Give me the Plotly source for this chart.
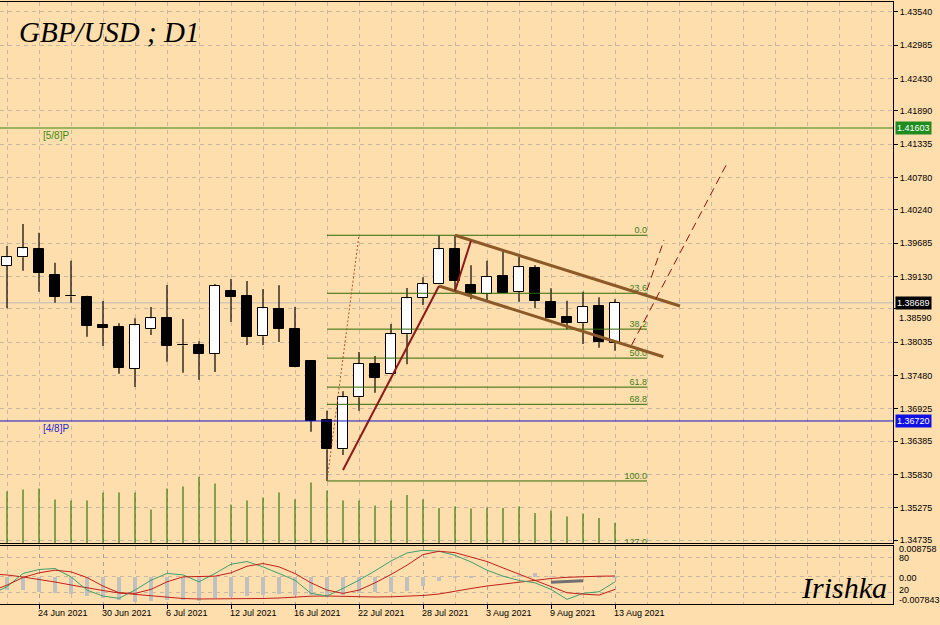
import plotly.graph_objects as go

# ---------------- data ----------------
dates = ["18 Jun 2021", "21 Jun 2021", "22 Jun 2021", "23 Jun 2021", "24 Jun 2021", "25 Jun 2021",
         "28 Jun 2021", "29 Jun 2021", "30 Jun 2021", "1 Jul 2021", "2 Jul 2021", "5 Jul 2021",
         "6 Jul 2021", "7 Jul 2021", "8 Jul 2021", "9 Jul 2021", "12 Jul 2021", "13 Jul 2021",
         "14 Jul 2021", "15 Jul 2021", "16 Jul 2021", "19 Jul 2021", "20 Jul 2021", "21 Jul 2021",
         "22 Jul 2021", "23 Jul 2021", "26 Jul 2021", "27 Jul 2021", "28 Jul 2021", "29 Jul 2021",
         "30 Jul 2021", "2 Aug 2021", "3 Aug 2021", "4 Aug 2021", "5 Aug 2021", "6 Aug 2021",
         "9 Aug 2021", "10 Aug 2021", "11 Aug 2021", "12 Aug 2021", "13 Aug 2021"]

# candles: 22 Jun .. 13 Aug
open_ = [1.39308, 1.39448, 1.39581, 1.39148, 1.38800, 1.38781, 1.38320, 1.38286, 1.37591, 1.38248,
         1.38436, 1.37981, 1.37981, 1.37841, 1.38886, 1.38798, 1.38131, 1.38586, 1.38248, 1.37720,
         1.36736, 1.36248, 1.37115, 1.37670, 1.37498, 1.38165, 1.38765, 1.38998, 1.39581, 1.38986,
         1.38836, 1.39136, 1.38865, 1.39265, 1.38703, 1.38453, 1.38348, 1.38636, 1.38025]
high = [1.39636, 1.40003, 1.39858, 1.39358, 1.39391, 1.38808, 1.38720, 1.38348, 1.38431, 1.38620,
        1.38986, 1.38420, 1.38048, 1.39003, 1.39086, 1.39053, 1.38920, 1.38981, 1.38620, 1.37736,
        1.36891, 1.37215, 1.37870, 1.37803, 1.38336, 1.38936, 1.39115, 1.39815, 1.39815, 1.39315,
        1.39391, 1.39558, 1.39458, 1.39315, 1.38931, 1.38725, 1.38875, 1.38781, 1.38748]
low = [1.38598, 1.39225, 1.38875, 1.38691, 1.38691, 1.38125, 1.37970, 1.37508, 1.37286, 1.38153,
       1.37708, 1.37525, 1.37408, 1.37536, 1.38370, 1.37986, 1.37986, 1.38036, 1.37615, 1.36541,
       1.35720, 1.36153, 1.36891, 1.37191, 1.37498, 1.37665, 1.38653, 1.38998, 1.38891, 1.38748,
       1.38725, 1.38858, 1.38708, 1.38598, 1.38441, 1.38248, 1.38003, 1.37941, 1.37891]
close = [1.39448, 1.39598, 1.39191, 1.38791, 1.38795, 1.38308, 1.38275, 1.37608, 1.38315, 1.38431,
         1.37975, 1.37985, 1.37841, 1.38975, 1.38791, 1.38125, 1.38598, 1.38258, 1.37625, 1.36720,
         1.36248, 1.37115, 1.37670, 1.37441, 1.38165, 1.38765, 1.38998, 1.39581, 1.39058, 1.38836,
         1.39125, 1.38858, 1.39281, 1.38725, 1.38441, 1.38358, 1.38625, 1.38041, 1.38689]
volume = [103000, 107000, 109000, 87000, 85000, 85000, 101000, 101000, 101000, 67000,
          109000, 113000, 132000, 119000, 77000, 85000, 91000, 101000, 87000, 121000,
          105000, 85000, 85000, 75000, 85000, 96000, 87000, 70000, 73000, 69000,
          71000, 70000, 73000, 60000, 65000, 53000, 59000, 50000, 40000]

# oscillators: 21 Jun .. 13 Aug
stoch_k = [16.7, 29.7, 52.6, 59.5, 61.2, 46.8, 24.0, 13.7, 9.8, 24.0, 41.0, 52.6, 50.3, 38.2, 52.6,
           68.6, 73.2, 64.0, 52.6, 41.0, 18.3, 13.7, 26.9, 41.1, 57.1, 74.2, 88.0, 92.6, 90.9, 84.0,
           72.5, 58.3, 48.0, 40.6, 36.5, 25.2, 8.0, 18.3, 21.1, 38.2]
stoch_d = [22.0, 32.6, 45.7, 53.7, 58.3, 55.4, 45.7, 30.9, 19.4, 18.3, 25.2, 38.2, 46.8, 48.0, 48.0,
           53.7, 65.1, 69.8, 64.0, 52.6, 36.5, 24.0, 18.3, 24.0, 36.5, 50.9, 66.9, 85.2, 90.9, 88.6,
           81.1, 73.2, 62.2, 51.4, 41.1, 29.7, 19.4, 17.1, 15.4, 25.2]
macd_main = [-0.00326, -0.00384, -0.00384, -0.00441, -0.00469, -0.00498, -0.00555, -0.00613, -0.00670,
             -0.00727, -0.00698, -0.00670, -0.00670, -0.00698, -0.00613, -0.00584, -0.00555, -0.00527,
             -0.00498, -0.00527, -0.00530, -0.00580, -0.00520, -0.00480, -0.00450, -0.00430, -0.00400,
             -0.00280, -0.00140, -0.00050, -0.00020, 0.00000, 0.00003, 0.00032, 0.00089, 0.00017,
             0.00000, -0.00010, -0.00040, -0.00026]
macd_signal = [0.00080, 0.00046, -0.00011, -0.00077, -0.00155, -0.00240, -0.00326, -0.00398, -0.00469,
               -0.00512, -0.00555, -0.00593, -0.00627, -0.00641, -0.00641, -0.00641, -0.00641, -0.00627,
               -0.00613, -0.00584, -0.00561, -0.00555, -0.00570, -0.00584, -0.00584, -0.00578, -0.00564,
               -0.00541, -0.00498, -0.00412, -0.00341, -0.00269, -0.00212, -0.00155, -0.00097, -0.00054,
               -0.00020, 0.00003, 0.00011, 0.00017]
osma_seg_dates = ["9 Aug 2021", "10 Aug 2021", "11 Aug 2021"]
osma_seg = [-0.00163, -0.00140, -0.00117]

# drawn objects (bar index, price)
murrey_58 = 1.41603
murrey_48 = 1.36720
last_price = 1.38689
fib_x = [20, 40]
fib_prices = [1.39815, 1.35720]   # 0.0 level, 100.0 level
fib_levels = [0.0, 23.6, 38.2, 50.0, 61.8, 68.8, 100.0, 127.0]
fib_diag = ([20, 22], [1.35720, 1.39815])
red_line1 = ([21, 27], [1.35903, 1.38970])
red_line2 = ([28, 29], [1.38886, 1.39725])
chan_upper = ([28, 42.06], [1.39815, 1.38636])
chan_lower = ([27, 41.02], [1.38970, 1.37791])
proj1 = ([39.04, 44.98], [1.37986, 1.41003])
proj2 = ([40, 41.06], [1.38903, 1.39736])

price_ticks = [1.43540, 1.42985, 1.42430, 1.41890, 1.41335, 1.40780, 1.40240, 1.39685, 1.39130,
               1.38035, 1.37480, 1.36925, 1.36385, 1.35830, 1.35275, 1.34735]
hidden_tick = 1.38590   # tick mostly covered by the last-price box

# ---------------- style ----------------
BG = "#FFDEAD"
GRID = "rgba(130,135,150,0.45)"
GDASH = "4px,4px"
FONT = "Liberation Sans"

xk = [i - 2 for i in range(len(dates))]
xc = xk[2:]          # candle bars
xo = xk[1:]          # oscillator points
idx = {d: k for d, k in zip(dates, xk)}

fig = go.Figure()

# volumes (own axis)
vx, vy = [], []
for k, v in zip(xc, volume):
    vx += [k, k, None]
    vy += [0, v, None]
fig.add_trace(go.Scatter(x=vx, y=vy, mode="lines", line=dict(color="#2a7a0a", width=1.2),
                         xaxis="x", yaxis="y2", hoverinfo="skip"))

# candle bodies
base = [min(o, c) for o, c in zip(open_, close)]
hgt = [abs(c - o) for o, c in zip(open_, close)]
cols = ["white" if c > o else "black" for o, c in zip(open_, close)]
fig.add_trace(go.Bar(x=xc, y=hgt, base=base, width=0.62,
                     marker=dict(color=cols, line=dict(color="black", width=1)),
                     xaxis="x", yaxis="y", hoverinfo="skip"))
# wicks
wx, wy = [], []
for k, o, h, l, c in zip(xc, open_, high, low, close):
    top, bot = max(o, c), min(o, c)
    if h > top:
        wx += [k, k, None]; wy += [top, h, None]
    if l < bot:
        wx += [k, k, None]; wy += [l, bot, None]
fig.add_trace(go.Scatter(x=wx, y=wy, mode="lines", line=dict(color="black", width=1.2),
                         xaxis="x", yaxis="y", hoverinfo="skip"))

# fibonacci
rng = fib_prices[0] - fib_prices[1]
fib_y = [fib_prices[0] - L / 100.0 * rng for L in fib_levels]
fx, fy = [], []
for p in fib_y:
    fx += [fib_x[0], fib_x[1], None]
    fy += [p, p, None]
fig.add_trace(go.Scatter(x=fx, y=fy, mode="lines", line=dict(color="#2f6a06", width=1),
                         xaxis="x", yaxis="y", hoverinfo="skip"))
fig.add_trace(go.Scatter(x=[fib_x[1]] * len(fib_y), y=fib_y, mode="text",
                         text=[f"{L:.1f}" for L in fib_levels], textposition="top left",
                         textfont=dict(family=FONT, size=9, color="#3f7f1f"), cliponaxis=True,
                         xaxis="x", yaxis="y", hoverinfo="skip"))
fig.add_trace(go.Scatter(x=fib_diag[0], y=fib_diag[1], mode="lines",
                         line=dict(color="#b0502a", width=1, dash="2px,2px"),
                         xaxis="x", yaxis="y", hoverinfo="skip"))

# channel and trend lines
for xs, ys, col, w, dash in [
    (chan_upper[0], chan_upper[1], "#8c5a28", 3, "solid"),
    (chan_lower[0], chan_lower[1], "#8c5a28", 3, "solid"),
    (red_line1[0], red_line1[1], "#8b1a1a", 2, "solid"),
    (red_line2[0], red_line2[1], "#8b1a1a", 2, "solid"),
    (proj1[0], proj1[1], "#8b1010", 1, "8px,5px"),
    (proj2[0], proj2[1], "#8b1010", 1, "8px,5px"),
]:
    fig.add_trace(go.Scatter(x=xs, y=ys, mode="lines", line=dict(color=col, width=w, dash=dash),
                             xaxis="x", yaxis="y", hoverinfo="skip"))

# oscillator pane: MACD (y3) and stochastic (y4)
fig.add_trace(go.Bar(x=xo, y=macd_main, base=0, width=0.25, marker=dict(color="#c0c0c0", line=dict(width=0)),
                     xaxis="x2", yaxis="y3", hoverinfo="skip"))
fig.add_trace(go.Scatter(x=xo, y=macd_signal, mode="lines", line=dict(color="#c0201a", width=1),
                         xaxis="x2", yaxis="y3", hoverinfo="skip"))
fig.add_trace(go.Scatter(x=[idx[d] for d in osma_seg_dates], y=osma_seg, mode="lines",
                         line=dict(color="#707070", width=3), xaxis="x2", yaxis="y3", hoverinfo="skip"))
fig.add_trace(go.Scatter(x=xo, y=stoch_k, mode="lines", line=dict(color="#3f9f6f", width=1),
                         xaxis="x2", yaxis="y4", hoverinfo="skip"))
fig.add_trace(go.Scatter(x=xo, y=stoch_d, mode="lines", line=dict(color="#c0201a", width=1),
                         xaxis="x2", yaxis="y4", hoverinfo="skip"))

# ---------------- layout ----------------
MAIN_BOT = (604 - 543) / 602.0
OSC_TOP = (604 - 546) / 602.0
xr = [-0.4375, 55.375]
label_k = xk[::4]
all_ticks = sorted(price_ticks + [hidden_tick], reverse=True)

fig.update_layout(
    width=940, height=625, margin=dict(l=0, r=47, t=2, b=21),
    paper_bgcolor=BG, plot_bgcolor=BG, showlegend=False, bargap=0,
    font=dict(family=FONT, size=9, color="black"),
    xaxis=dict(domain=[0, 1], anchor="y", range=xr, tickmode="linear", tick0=0, dtick=2,
               showticklabels=False, ticks="", showgrid=True, gridcolor=GRID, griddash=GDASH,
               gridwidth=1, showline=True, linecolor="black", linewidth=1, mirror=True, zeroline=False),
    xaxis2=dict(domain=[0, 1], anchor="y3", range=xr, tickmode="array", tickvals=label_k,
                showticklabels=False, ticks="outside", ticklen=4, tickcolor="black", showgrid=True,
                gridcolor=GRID, griddash=GDASH,
                minor=dict(tickmode="linear", tick0=0, dtick=2, showgrid=True, gridcolor=GRID,
                           griddash=GDASH, ticks=""),
                showline=True, linecolor="black", linewidth=1, mirror=True, zeroline=False),
    yaxis=dict(domain=[MAIN_BOT, 1], anchor="x", side="right",
               range=[1.437363 - 543 / 6000.0, 1.437363 - 2 / 6000.0],
               tickmode="array", tickvals=all_ticks,
               ticktext=[f"{t:.5f}" if t != hidden_tick else "" for t in all_ticks],
               ticks="outside", ticklen=4, tickcolor="black", tickfont=dict(family=FONT, size=9),
               showgrid=True, gridcolor=GRID, griddash=GDASH, showline=True, linecolor="black",
               zeroline=False),
    yaxis2=dict(overlaying="y", anchor="x", range=[0, 1082000], visible=False),
    yaxis3=dict(domain=[0, OSC_TOP], anchor="x2", side="right", range=[-0.007843, 0.008758],
                tickmode="array", tickvals=[0], showticklabels=False, ticks="", showgrid=True,
                gridcolor=GRID, griddash=GDASH, showline=True, linecolor="black", zeroline=False),
    yaxis4=dict(overlaying="y3", anchor="x2", side="right", range=[0, 100], tickmode="array",
                tickvals=[20, 80], showticklabels=False, ticks="", showgrid=True, gridcolor=GRID,
                griddash=GDASH, showline=False, zeroline=False),
)

shapes = [
    dict(type="line", xref="paper", x0=0, x1=1, yref="y", y0=murrey_58, y1=murrey_58,
         line=dict(color="#3a8a10", width=1)),
    dict(type="line", xref="paper", x0=0, x1=1, yref="y", y0=murrey_48, y1=murrey_48,
         line=dict(color="#1414c8", width=1)),
    dict(type="line", xref="paper", x0=0, x1=1, yref="y", y0=last_price, y1=last_price,
         line=dict(color="#bdbdbd", width=1), layer="below"),
]
fig.update_layout(shapes=shapes)

ann = []
ann.append(dict(text="GBP/USD ; D1", xref="paper", yref="paper", x=17 / 893.0, y=(604 - 32) / 602.0,
                xanchor="left", yanchor="middle", showarrow=False,
                font=dict(family="Liberation Serif", size=29, color="black", style="italic")))
ann.append(dict(text="Irishka", xref="paper", yref="paper", x=889 / 893.0, y=(604 - 587) / 602.0,
                xanchor="right", yanchor="middle", showarrow=False,
                font=dict(family="Liberation Serif", size=30, color="black", style="italic")))
for k in label_k:
    ann.append(dict(text=dates[k + 2], xref="x2", yref="paper", x=k, y=(604 - 613) / 602.0,
                    xanchor="left", yanchor="middle", xshift=-3, showarrow=False,
                    font=dict(family=FONT, size=9, color="black")))
# partially hidden tick label below the last-price box
ann.append(dict(text=f"{hidden_tick:.5f}", xref="paper", yref="y", x=1, y=hidden_tick, xanchor="left",
                yanchor="top", xshift=4, yshift=-2, showarrow=False,
                font=dict(family=FONT, size=9, color="black")))
for val, bg in [(murrey_58, "#1e8c1e"), (murrey_48, "#1010e6"), (last_price, "black")]:
    ann.append(dict(text=f"{val:.5f}", xref="paper", yref="y", x=1, y=val, xanchor="left",
                    yanchor="middle", xshift=2, showarrow=False, bgcolor=bg, borderpad=1,
                    font=dict(family=FONT, size=9, color="white")))
ann.append(dict(text="[5/8]P", xref="paper", yref="y", x=41 / 893.0, y=murrey_58, xanchor="left",
                yanchor="top", showarrow=False, font=dict(family=FONT, size=10, color="#3a8a10")))
ann.append(dict(text="[4/8]P", xref="paper", yref="y", x=41 / 893.0, y=murrey_48, xanchor="left",
                yanchor="top", showarrow=False, font=dict(family=FONT, size=10, color="#2a2ad0")))
for txt, py in [("0.008758", 548.5), ("80", 558), ("0.00", 577.5), ("20", 589.5), ("-0.007843", 599.5)]:
    ann.append(dict(text=txt, xref="paper", yref="paper", x=1, y=(604 - py) / 602.0, xanchor="left",
                    yanchor="middle", xshift=4, showarrow=False,
                    font=dict(family=FONT, size=9, color="black")))
fig.update_layout(annotations=ann)

fig.write_html("out.html")
